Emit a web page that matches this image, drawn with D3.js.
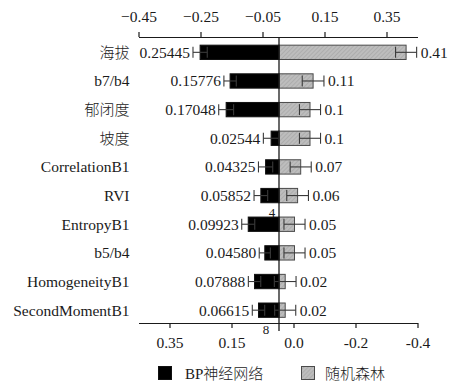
<!DOCTYPE html>
<html>
<head>
<meta charset="utf-8">
<script src="https://cdn.jsdelivr.net/npm/d3@7"></script>
<style>
  html, body { margin: 0; padding: 0; background: #fff; }
  svg { display: block; }
</style>
</head>
<body>
<svg id="chart" width="451" height="384"></svg>
<script>
// ---- data ----
const categories = ["海拔", "b7/b4", "郁闭度", "坡度", "CorrelationB1", "RVI", "EntropyB1", "b5/b4", "HomogeneityB1", "SecondMomentB1"];
const bpValues = [0.25445, 0.15776, 0.17048, 0.02544, 0.04325, 0.05852, 0.09923, 0.04580, 0.07888, 0.06615];
const bpLabels = ["0.25445", "0.15776", "0.17048", "0.02544", "0.04325", "0.05852", "0.09923", "0.04580", "0.07888", "0.06615"];
const bpErrors = [0.023, 0.020, 0.024, 0.025, 0.023, 0.022, 0.021, 0.018, 0.020, 0.020];
const rfValues = [0.41, 0.11, 0.1, 0.1, 0.07, 0.06, 0.05, 0.05, 0.02, 0.02];
const rfLabels = ["0.41", "0.11", "0.1", "0.1", "0.07", "0.06", "0.05", "0.05", "0.02", "0.02"];
const rfErrors = [0.034, 0.035, 0.034, 0.034, 0.034, 0.035, 0.034, 0.034, 0.035, 0.034];
const topTicks = [-0.45, -0.25, -0.05, 0.15, 0.35];
const bottomTickPositions = [0.35, 0.15, -0.05, -0.25, -0.45];
const bottomTickLabels = ["0.35", "0.15", "0.0", "-0.2", "-0.4"];
const seriesNames = ["BP神经网络", "随机森林"];

const FONT = "'Liberation Serif', 'Times New Roman', 'DejaVu Serif', 'Noto Sans CJK SC', serif";
const svg = d3.select("#chart");
const ink = "#1a1a1a";
const hasCJK = s => /[\u4e00-\u9fff]/.test(s);

// hatch pattern for random forest bars
const defs = svg.append("defs");
const pat = defs.append("pattern").attr("id", "hatch").attr("patternUnits", "userSpaceOnUse")
  .attr("width", 3).attr("height", 3).attr("patternTransform", "rotate(45)");
pat.append("rect").attr("width", 3).attr("height", 3).attr("fill", "#bdbdbd");
pat.append("line").attr("x1", 0).attr("y1", 0).attr("x2", 0).attr("y2", 3)
  .attr("stroke", "#a3a3a3").attr("stroke-width", 1.2);

// ---- scales ----
const x = d3.scaleLinear().domain([-0.45, 0.45]).range([139.5, 418.5]);
const xTop = d3.scaleLinear().domain([-0.45, 0.45]).range([138.5, 417.5]);
const xBottom = d3.scaleLinear().domain([0.45, -0.45]).range([138.5, 417.5]);
const y = d3.scaleBand().domain(categories).range([38, 324.5]).paddingInner(0.5).paddingOuter(0.25);
const bw = y.bandwidth();
const cy = c => y(c) + bw / 2;

const fontSize = 15.5;

function styleText(sel, size) {
  sel.style("font-family", FONT).style("font-size", size + "px").attr("fill", ink);
}

// ---- top axis ----
const topAxis = svg.append("g").attr("transform", "translate(0,37)")
  .call(d3.axisTop(xTop).tickValues(topTicks).tickSizeOuter(0).tickSizeInner(5).tickPadding(10)
    .tickFormat(d => d3.format(".2f")(d)));
topAxis.attr("font-family", null).attr("font-size", null);
topAxis.select(".domain").attr("stroke", ink).attr("stroke-width", 1.2);
topAxis.selectAll(".tick line").attr("stroke", ink).attr("stroke-width", 1.2);
styleText(topAxis.selectAll(".tick text"), fontSize);

// ---- bottom axis ----
const bottomAxis = svg.append("g").attr("transform", "translate(0,323)")
  .call(d3.axisBottom(xBottom).tickValues(bottomTickPositions).tickSizeOuter(0).tickSizeInner(5).tickPadding(9)
    .tickFormat((d, i) => bottomTickLabels[i]));
bottomAxis.attr("font-family", null).attr("font-size", null);
bottomAxis.select(".domain").attr("stroke", ink).attr("stroke-width", 1.2);
bottomAxis.selectAll(".tick line").attr("stroke", ink).attr("stroke-width", 1.2);
styleText(bottomAxis.selectAll(".tick text"), fontSize);

// ---- bars ----
const rows = categories.map((c, i) => ({
  c, bp: bpValues[i], bpL: bpLabels[i], bpE: bpErrors[i],
  rf: rfValues[i], rfL: rfLabels[i], rfE: rfErrors[i]
}));

svg.append("g").selectAll("rect").data(rows).join("rect")
  .attr("x", d => x(0)).attr("y", d => y(d.c))
  .attr("width", d => x(d.rf) - x(0)).attr("height", bw)
  .attr("fill", "url(#hatch)").attr("stroke", "#4a4a4a").attr("stroke-width", 1);

svg.append("g").selectAll("rect").data(rows).join("rect")
  .attr("x", d => x(-d.bp)).attr("y", d => y(d.c))
  .attr("width", d => x(0) - x(-d.bp)).attr("height", bw)
  .attr("fill", "#000").attr("stroke", "#111").attr("stroke-width", 1);

// ---- error bars ----
const capH = 11;
function errorBars(sel, getV, getE, color) {
  const g = sel.append("g").attr("stroke", color).attr("stroke-width", 1.1).attr("fill", "none");
  g.selectAll("line.h").data(rows).join("line").attr("class", "h")
    .attr("x1", d => x(getV(d) - getE(d))).attr("x2", d => x(getV(d) + getE(d)))
    .attr("y1", d => cy(d.c)).attr("y2", d => cy(d.c));
  g.selectAll("line.c1").data(rows).join("line").attr("class", "c1")
    .attr("x1", d => x(getV(d) - getE(d))).attr("x2", d => x(getV(d) - getE(d)))
    .attr("y1", d => cy(d.c) - capH / 2).attr("y2", d => cy(d.c) + capH / 2);
  g.selectAll("line.c2").data(rows).join("line").attr("class", "c2")
    .attr("x1", d => x(getV(d) + getE(d))).attr("x2", d => x(getV(d) + getE(d)))
    .attr("y1", d => cy(d.c) - capH / 2).attr("y2", d => cy(d.c) + capH / 2);
}
errorBars(svg, d => -d.bp, d => d.bpE, "#3a3a3a");
errorBars(svg, d => d.rf, d => d.rfE, "#3a3a3a");

// ---- center line ----
svg.append("line").attr("x1", x(0)).attr("x2", x(0)).attr("y1", 37).attr("y2", 331)
  .attr("stroke", ink).attr("stroke-width", 1.3);

// ---- value labels ----
styleText(svg.append("g").selectAll("text").data(rows).join("text")
  .attr("x", d => x(-d.bp - d.bpE) - 3).attr("y", d => cy(d.c) + 5.5)
  .attr("text-anchor", "end").text(d => d.bpL), fontSize);

styleText(svg.append("g").selectAll("text").data(rows).join("text")
  .attr("x", d => x(d.rf + d.rfE) + 4).attr("y", d => cy(d.c) + 5.5)
  .attr("text-anchor", "start").text(d => d.rfL), fontSize);

// ---- category labels ----
const catText = svg.append("g").selectAll("text").data(rows).join("text")
  .attr("x", 129.5).attr("y", d => cy(d.c) + 5.5)
  .attr("text-anchor", "end").text(d => d.c);
styleText(catText, fontSize);
catText.filter(d => hasCJK(d.c)).style("font-weight", 300).style("font-size", "15px");

// ---- stray glyphs present in the original figure ----
styleText(svg.append("text").attr("x", 272).attr("y", 216.5).attr("text-anchor", "middle").text("4"), 13);
styleText(svg.append("text").attr("x", 266).attr("y", 333.5).attr("text-anchor", "middle").text("8"), 13);

// ---- legend ----
const legend = svg.append("g");
legend.append("rect").attr("x", 158.5).attr("y", 366.5).attr("width", 13).attr("height", 13)
  .attr("fill", "#000").attr("stroke", "#111");
styleText(legend.append("text").attr("x", 185).attr("y", 379).text(seriesNames[0]).style("font-weight", 300), 15);
legend.append("rect").attr("x", 301.5).attr("y", 366.5).attr("width", 13).attr("height", 13)
  .attr("fill", "url(#hatch)").attr("stroke", "#4a4a4a");
styleText(legend.append("text").attr("x", 325).attr("y", 379).text(seriesNames[1]).style("font-weight", 300), 15);
</script>
</body>
</html>
